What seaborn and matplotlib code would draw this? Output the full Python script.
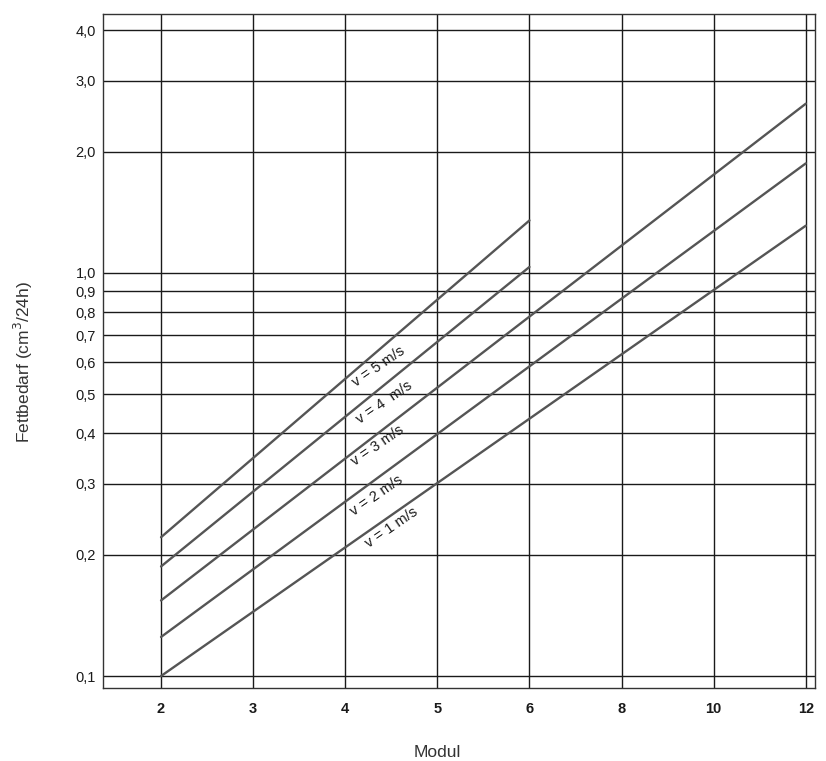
import pandas as pd
import seaborn as sns
import matplotlib.pyplot as plt
from matplotlib.ticker import FixedLocator, NullLocator

modul = [2, 3, 4, 5, 6, 8, 10, 12]

# each curve: start and end (Modul, Fettbedarf)
v1_modul = [2, 12]
v1_fett = [0.100, 1.31]
v2_modul = [2, 12]
v2_fett = [0.125, 1.87]
v3_modul = [2, 12]
v3_fett = [0.154, 2.63]
v4_modul = [2, 6]
v4_fett = [0.187, 1.035]
v5_modul = [2, 6]
v5_fett = [0.221, 1.35]

labels = ['v = 1 m/s', 'v = 2 m/s', 'v = 3 m/s', 'v = 4  m/s', 'v = 5 m/s']
label_x = [2.50, 2.34, 2.35, 2.42, 2.36]
label_y = [0.234, 0.281, 0.372, 0.478, 0.586]

y_ticks = [0.1, 0.2, 0.3, 0.4, 0.5, 0.6, 0.7, 0.8, 0.9, 1.0, 2.0, 3.0, 4.0]
y_ticklabels = ['0,1', '0,2', '0,3', '0,4', '0,5', '0,6', '0,7', '0,8', '0,9', '1,0', '2,0', '3,0', '4,0']

rows = []
for lab, xs, ys in zip(labels,
                       [v1_modul, v2_modul, v3_modul, v4_modul, v5_modul],
                       [v1_fett, v2_fett, v3_fett, v4_fett, v5_fett]):
    for m, f in zip(xs, ys):
        rows.append({'v': lab, 'pos': modul.index(m), 'Fettbedarf': f})
df = pd.DataFrame(rows)

sns.set_style('white')
plt.rcParams['font.family'] = ['Liberation Sans', 'DejaVu Sans']

fig = plt.figure(figsize=(8.26, 7.61), dpi=100)
ax = fig.add_axes([103 / 826, (761 - 688) / 761, (815 - 103) / 826, (688 - 14) / 761])

sns.lineplot(data=df, x='pos', y='Fettbedarf', units='v', estimator=None,
             color='#555555', linewidth=1.7, legend=False, ax=ax)

ax.set_yscale('log')
ax.set_ylim(0.0934, 4.39)
ax.set_xlim(-0.63, 7.1)

ax.set_xticks(range(len(modul)))
ax.set_xticklabels([str(m) for m in modul], fontweight='bold', fontsize=10.5)
ax.yaxis.set_major_locator(FixedLocator(y_ticks))
ax.yaxis.set_minor_locator(NullLocator())
ax.set_yticklabels(y_ticklabels, fontsize=10.5)
ax.tick_params(axis='both', length=0, colors='#1a1a1a')
ax.tick_params(axis='x', pad=10)
ax.tick_params(axis='y', pad=5)

ax.grid(True, which='major', color='#1a1a1a', linewidth=1.0)
ax.set_axisbelow(True)
for s in ax.spines.values():
    s.set_color('#333333')
    s.set_linewidth(1.0)

for lab, x, y in zip(labels, label_x, label_y):
    ax.text(x, y, lab, rotation=34.5, ha='center', va='center',
            fontsize=10.5, color='#1a1a1a', rotation_mode='anchor')

ax.set_xlabel('Modul', fontsize=12.5, color='#333333')
ax.set_ylabel('Fettbedarf (cm$^3$/24h)', fontsize=12.5, color='#333333')
ax.xaxis.set_label_coords(0.469, -0.085)
ax.yaxis.set_label_coords(-0.096, 0.484)

plt.savefig('out.png', dpi=100)
